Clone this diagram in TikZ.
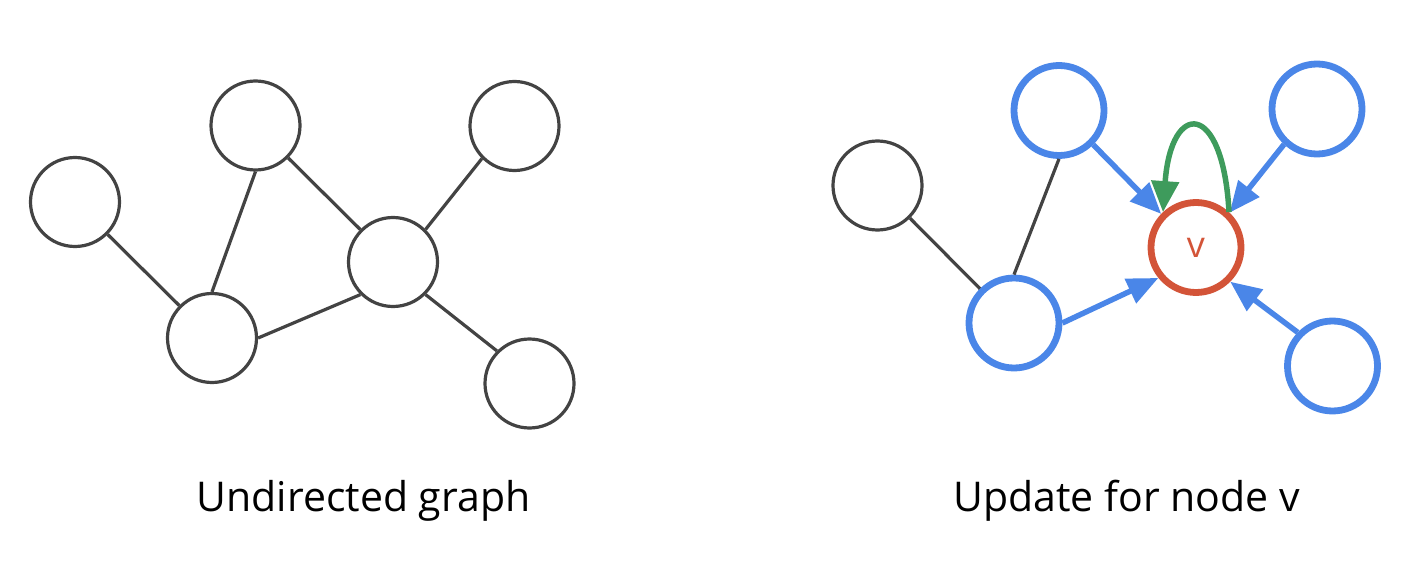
\documentclass[tikz,border=0pt]{standalone}
\usepackage{fontspec}
\setmainfont{Open Sans}
\usetikzlibrary{arrows.meta}
\definecolor{gr}{HTML}{434343}
\definecolor{bl}{HTML}{4A86E8}
\definecolor{rd}{HTML}{D35438}
\definecolor{gn}{HTML}{3E9B5C}
\begin{document}
\begin{tikzpicture}[x=1pt,y=-1pt,
  plain/.style={circle,draw=gr,line width=3.2pt,minimum size=89pt,inner sep=0pt},
  hot/.style={circle,draw=bl,line width=6.8pt,minimum size=90pt,inner sep=0pt},
  target/.style={circle,draw=rd,line width=6.8pt,minimum size=90pt,inner sep=0pt,text=rd,font=\fontsize{36}{36}\selectfont},
  edge/.style={draw=gr,line width=3.2pt},
  msg/.style={draw=bl,line width=5.5pt,-{Triangle[length=31pt,width=26pt]}},
  selfmsg/.style={draw=gn,line width=5.5pt,-{Triangle[length=31pt,width=27pt]}},
  caption/.style={anchor=base,font=\fontsize{41}{41}\selectfont}]
\useasboundingbox (0,0) rectangle (1409,567);
% left graph
\node[plain] (A) at (75,202) {};
\node[plain] (B) at (255.5,125.5) {};
\node[plain] (C) at (514.5,126) {};
\node[plain] (D) at (393,262) {};
\node[plain] (E) at (212,338) {};
\node[plain] (F) at (529.5,383.5) {};
\draw[edge] (A) -- (E);
\draw[edge] (B.south) -- (E.north);
\draw[edge] (B) -- (D);
\draw[edge] (C.225) -- (D.45);
\draw[edge] (E.east) -- (D.225);
\draw[edge] (D.315) -- (F.135);
% right graph
\node[plain] (G) at (877.5,185.5) {};
\node[hot] (H) at (1059,110.5) {};
\node[hot] (I) at (1317,109) {};
\node[hot] (J) at (1014,323) {};
\node[hot] (K) at (1332.5,366) {};
\node[target] (v) at (1196,247.5) {\raisebox{-4pt}{v}};
\draw[edge] (G) -- (J);
\draw[edge] (H.south) -- (J.north);
\draw[msg] (H.315) -- (v.136);
\draw[msg] (I.227) -- (v.46);
\draw[msg] (J.east) -- (v.219);
\draw[msg] (K.136) -- (v.315);
\draw[selfmsg] (v.47) .. controls (1223,100) and (1171,100) .. (v.133);
% captions
\node[caption] (cap1) at (363.5,511) {Undirected graph};
\node[caption] (cap2) at (1126.5,511) {Update for node v};
\end{tikzpicture}
\end{document}
